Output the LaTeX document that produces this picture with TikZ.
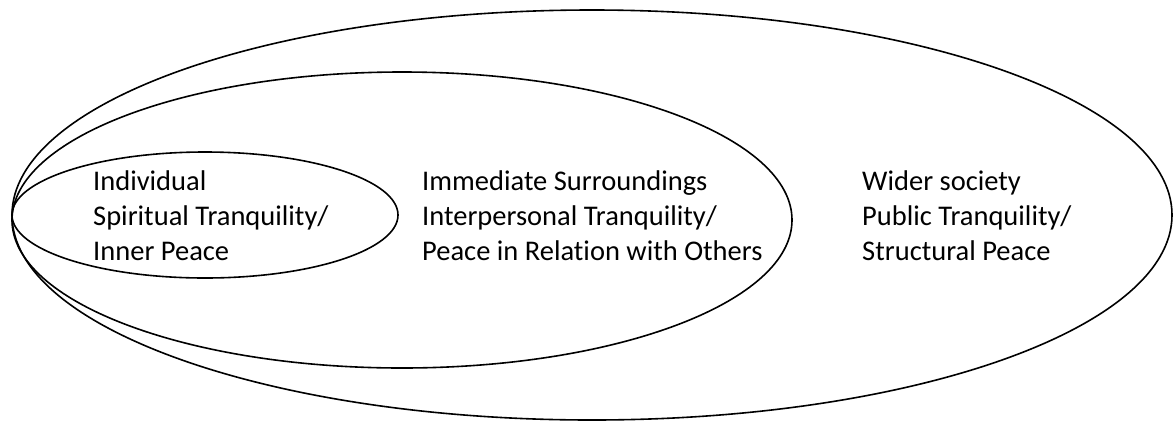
\documentclass[tikz,border=0pt]{standalone}
\usepackage{fontspec}
\setmainfont[Ligatures=NoCommon]{Carlito}
\usetikzlibrary{positioning}
\tikzset{
  ring/.style={draw=black,line width=1.6pt},
  sphere/.style={anchor=base west,align=left,inner sep=0pt}
}

\begin{document}
\begin{tikzpicture}[x=1pt,y=-1pt,font=\fontsize{28.5}{35}\selectfont]
  \useasboundingbox (0,0) rectangle (1174,421);
  \draw[ring] (592,215) ellipse [x radius=580,y radius=205];
  \draw[ring] (402,220) ellipse [x radius=390,y radius=148];
  \draw[ring] (205,215) ellipse [x radius=193,y radius=63];
  % base anchor sits on the last line
  \node[sphere] (inner) at (93,260)
    {Individual\\Spiritual Tranquility/\\Inner Peace};
  \node[sphere] (near) at (422,260)
    {Immediate Surroundings\\Interpersonal Tranquility/\\Peace in Relation with Others};
  \node[sphere] (wide) at (862,260)
    {Wider society\\Public Tranquility/\\Structural Peace};
\end{tikzpicture}
\end{document}
